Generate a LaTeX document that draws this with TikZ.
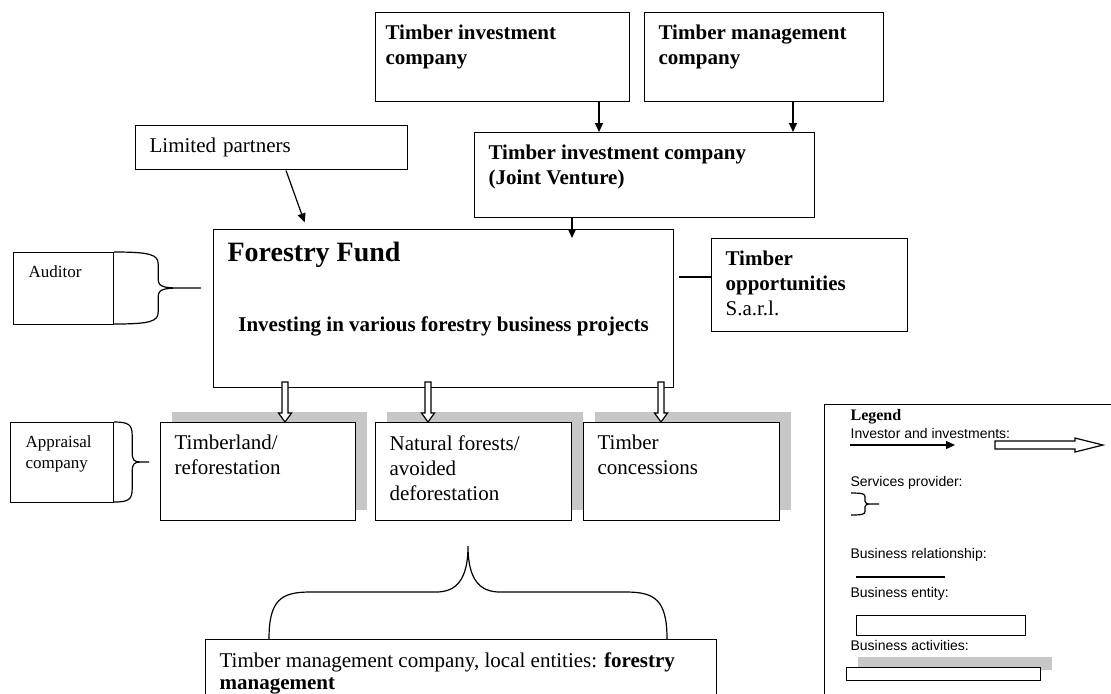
\documentclass[tikz,border=0pt]{standalone}
\usepackage{fontspec}
\setmainfont{Liberation Serif}
\setsansfont{Liberation Sans}
\usetikzlibrary{arrows.meta,shadows,positioning}

% text block pinned to the top left of a box
\newcommand{\boxtext}[3]{\begin{minipage}[t][#2][t]{#1}#3\end{minipage}}
% service provider brace: corner, height, brace width, tip length
\newcommand{\svcbrace}[4]{%
  \draw[shift={(#1)}] (0,0) .. controls (0.8*#3,0) and (#3,#2/30) .. (#3,#2/6)
    -- (#3,#2/2-#2/8) .. controls (#3,#2/2-#2/40) and (0.9*#3+0.1*#4,#2/2) .. (#3/2+#4/2,#2/2) -- (#4,#2/2)
    (#3/2+#4/2,#2/2) .. controls (0.9*#3+0.1*#4,#2/2) and (#3,#2/2+#2/40) .. (#3,#2/2+#2/8)
    -- (#3,#2-#2/6) .. controls (#3,#2-#2/30) and (0.8*#3,#2) .. (0,#2);}

\begin{document}
\begin{tikzpicture}[x=0.5pt, y=-0.5pt, line width=0.6pt,
            entity/.style={draw, fill=white, anchor=north west, inner xsep=7pt, inner ysep=6.3pt,
            font=\fontsize{10.5}{12.5}\selectfont},
            activity/.style={entity, drop shadow={shadow xshift=5.5pt, shadow yshift=5.5pt,
            fill=black!22, opacity=1}},
            provider/.style={entity, inner xsep=7.5pt, font=\fontsize{8.5}{10.5}\selectfont},
            arr/.style={-{Triangle[length=4.5pt,width=4pt]}},
            legtext/.style={anchor=base west, inner sep=0pt, font=\sffamily\fontsize{7}{8.5}\selectfont}]
    \useasboundingbox (0,0) rectangle (1111,693);
    \clip (0,0) rectangle (1111,693);

    % owners
    \node (tic) [entity, inner xsep=5pt] at (375,12)
        {\boxtext{117pt}{31.9pt}{\textbf{Timber investment\\company}}};
    \node (tmc) [entity] at (644,12)
        {\boxtext{105.5pt}{31.9pt}{\textbf{Timber management\\company}}};
    \node (jv) [entity] at (474,132)
        {\boxtext{156pt}{29.9pt}{\textbf{Timber investment company\\(Joint Venture)}}};
    \node (lp) [entity, text width=122pt, minimum height=20.5pt, align=left] at (135,125)
        {Limited partners};

    % fund
    \node (fund) [entity] at (213,229)
        {\boxtext{216pt}{66.4pt}{\bfseries{\fontsize{14}{16}\selectfont Forestry Fund\par}%
        \vspace{22.5pt}{\centering Investing in various forestry business projects\par}}};
    \node (opp) [entity] at (711,238)
        {\boxtext{84pt}{33.9pt}{\textbf{Timber\\opportunities}\\S.a.r.l.}};

    % service providers
    \node (aud) [provider] at (13,252) {\boxtext{35pt}{23.4pt}{Auditor}};
    \node (apr) [provider] at (10,422) {\boxtext{36.5pt}{27.4pt}{Appraisal\\company}};

    % business activities
    \node (tl) [activity] at (160,422) {\boxtext{83.5pt}{36.4pt}{Timberland/\\reforestation}};
    \node (nf) [activity] at (375,422) {\boxtext{84pt}{36.4pt}{Natural forests/\\avoided\\deforestation}};
    \node (tc) [activity] at (583,422) {\boxtext{84pt}{36.4pt}{Timber\\concessions}};

    \node (mgmt) [entity] at (205,639)
        {\boxtext{241.5pt}{47.4pt}{Timber management company, local entities: \textbf{forestry}\\[-1.5pt]\textbf{management}}};

    % investments
    \draw[arr] (599,0 |- tic.south) -- (599,0 |- jv.north);
    \draw[arr] (793,0 |- tmc.south) -- (793,0 |- jv.north);
    \draw[arr, shorten >=-4.5pt] (572,0 |- jv.south) -- (572,0 |- fund.north);
    \draw[arr, shorten >=3.5pt] (286,0 |- lp.south) -- (307,0 |- fund.north);
    \foreach \x/\nd in {285/tl, 428/nf, 661/tc}
        \draw[fill=white] (\x,0 |- \nd.north) -- ++(-6.5,-9) -- ++(3.5,0) -- ++(0,-31)
            -- ++(6,0) -- ++(0,31) -- ++(3.5,0) -- cycle;

    % relationship
    \draw[shorten <=2.5pt] (fund.east |- 0,277) -- (opp.west |- 0,277);

    % services
    \svcbrace{aud.north east}{72}{44}{87}
    \svcbrace{apr.north east}{80}{18}{35}
    \draw (269,0 |- mgmt.north) .. controls +(0,-39) and +(-29,0) .. (310,592) -- (436,592)
        .. controls (456,592) and (468,580) .. (468,546)
        .. controls (468,580) and (480,592) .. (500,592) -- (626,592)
        .. controls +(29,0) and +(0,-39) .. (667,0 |- mgmt.north);

    % legend
    \node (legend) [draw, anchor=north west, minimum width=160pt, minimum height=160pt] at (824,404) {};
    \node (legtitle) [anchor=base west, inner sep=0pt, font=\bfseries\fontsize{8}{9.5}\selectfont]
        at (850,420) {Legend};
    \node (leginv) [legtext] at (850,438) {Investor and investments:};
    \coordinate (invA) at (850,445);
    \coordinate (invB) at (955,445);
    \draw[arr] (invA) -- (invB);
    \coordinate (hollowA) at (995,445);
    \draw[fill=white] (hollowA) -- ++(0,-4) -- ++(80,0) -- ++(0,-3) -- ++(28,7)
        -- ++(-28,7) -- ++(0,-3) -- ++(-80,0) -- cycle;
    \node (legsvc) [legtext] at (850,486) {Services provider:};
    \coordinate (svc) at (851,493);
    \svcbrace{svc}{22}{14}{28}
    \node (legrel) [legtext] at (850,558) {Business relationship:};
    \coordinate (relA) at (856,577);
    \coordinate (relB) at (945,577);
    \draw (relA) -- (relB);
    \node (legent) [legtext] at (850,597) {Business entity:};
    \node (entbox) [draw, anchor=north west, inner sep=0pt, minimum width=84.5pt, minimum height=10pt]
        at (856,615) {};
    \node (legact) [legtext] at (850,650) {Business activities:};
    \node (actbox) [activity, inner sep=0pt, minimum width=97pt, minimum height=6.5pt] at (846,667) {};
\end{tikzpicture}
\end{document}
